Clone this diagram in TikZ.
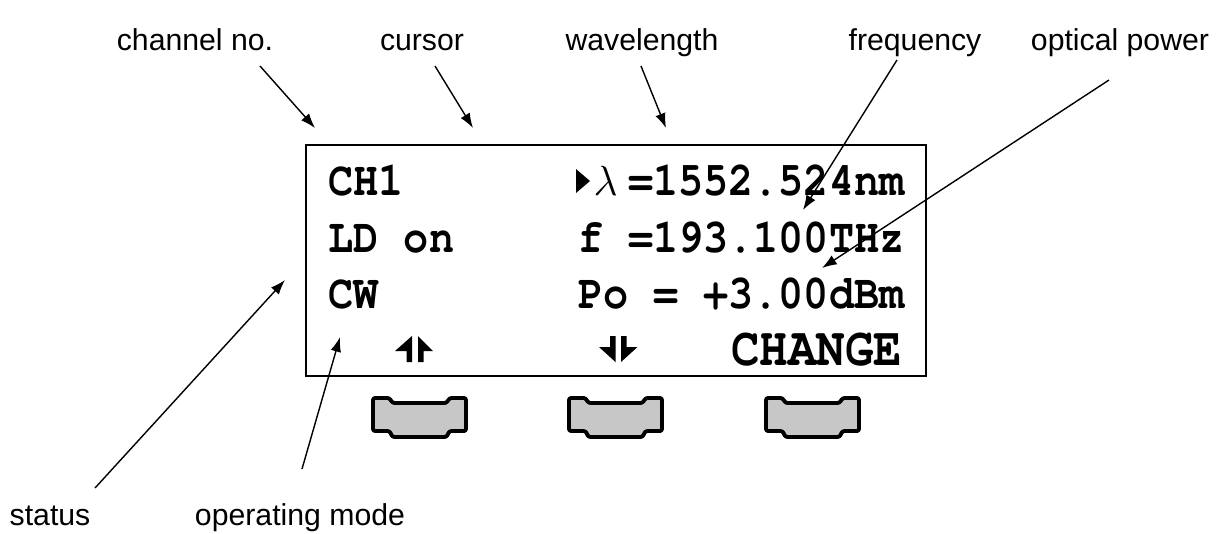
\documentclass[tikz,border=0pt]{standalone}
\usepackage{fontspec}
\setmainfont{Liberation Sans}
\newfontfamily\lcdfont{TeX Gyre Cursor}
\usetikzlibrary{arrows.meta}

\tikzset{
  callout/.style={font=\fontsize{8.6}{10}\selectfont, anchor=base, inner sep=0pt},
  lcdtext/.style={font=\lcdfont\bfseries\fontsize{11.9}{13}\selectfont, inner sep=0pt, yscale=1.15},
  pointer/.style={line width=0.4pt, -{Latex[length=4.2pt,width=3pt]}},
  keyglyph/.style={fill=black},
  softkey/.pic={
    \draw[line width=1.1pt, fill=black!22, line join=round, rounded corners=0.6pt]
      (-0.465,-0.135) -- (-0.465,0.195) -- (-0.30,0.195) -- (-0.27,0.145)
      -- (0.27,0.145) -- (0.30,0.195) -- (0.465,0.195) -- (0.465,-0.135)
      -- (0.30,-0.135) -- (0.27,-0.195) -- (-0.27,-0.195) -- (-0.30,-0.135) -- cycle;
  },
}

\begin{document}
\begin{tikzpicture}
  \useasboundingbox (0,0) rectangle (12.29,-5.33);

  % display frame
  \draw[line width=0.8pt] (3.06,-1.45) rectangle (9.26,-3.76);

  % display contents
  \node[lcdtext, anchor=base west] (chan) at (3.28,-1.95) {CH1};
  \node[lcdtext, anchor=base west] (ldon) at (3.28,-2.52) {LD on};
  \node[lcdtext, anchor=base west] (cw) at (3.28,-3.08) {CW};
  \fill (5.76,-1.69) -- (5.76,-1.93) -- (5.90,-1.81) -- cycle;
  \node[anchor=base west, inner sep=0pt, font=\fontsize{12}{14}\selectfont] (lam) at (5.93,-1.95) {$\lambda$};
  \node[lcdtext, anchor=base east] (wl) at (9.05,-1.95) {=1552.524nm};
  \node[lcdtext, anchor=base east] (fr) at (9.05,-2.52) {f =193.100THz};
  \node[lcdtext, anchor=base east] (po) at (9.05,-3.08) {Po = +3.00dBm};
  \node[lcdtext, anchor=base east, font=\lcdfont\bfseries\fontsize{13.5}{15}\selectfont] (change) at (9.03,-3.655) {CHANGE};

  % up / down key glyphs
  \fill[keyglyph] (4.12,-3.36) -- (4.12,-3.62) -- (4.065,-3.62) -- (4.065,-3.51) -- (3.95,-3.51) -- cycle;
  \fill[keyglyph] (4.18,-3.36) -- (4.33,-3.51) -- (4.235,-3.51) -- (4.235,-3.62) -- (4.18,-3.62) -- cycle;
  \fill[keyglyph] (6.10,-3.36) -- (6.155,-3.36) -- (6.155,-3.62) -- (5.99,-3.47) -- (6.10,-3.47) -- cycle;
  \fill[keyglyph] (6.21,-3.36) -- (6.265,-3.36) -- (6.265,-3.47) -- (6.375,-3.47) -- (6.21,-3.62) -- cycle;

  % soft keys
  \pic at (4.195,-4.175) {softkey};
  \pic at (6.155,-4.175) {softkey};
  \pic at (8.125,-4.175) {softkey};

  % callouts
  \node[callout] (chanlbl) at (1.95,-0.50) {channel no.};
  \node[callout] (curlbl) at (4.22,-0.50) {cursor};
  \node[callout] (wavelbl) at (6.42,-0.50) {wavelength};
  \node[callout] (freqlbl) at (9.15,-0.50) {frequency};
  \node[callout] (powlbl) at (11.20,-0.50) {optical power};
  \node[callout] (statlbl) at (0.50,-5.25) {status};
  \node[callout] (modelbl) at (3.00,-5.25) {operating mode};

  \coordinate (chan-from) at (2.60,-0.66);
  \coordinate (chan-to) at (3.15,-1.28);
  \coordinate (cur-from) at (4.35,-0.66);
  \coordinate (cur-to) at (4.73,-1.28);
  \coordinate (wave-from) at (6.41,-0.66);
  \coordinate (wave-to) at (6.66,-1.28);
  \coordinate (freq-from) at (8.97,-0.60);
  \coordinate (freq-to) at (8.03,-2.10);
  \coordinate (pow-from) at (11.09,-0.80);
  \coordinate (pow-to) at (8.22,-2.68);
  \coordinate (stat-from) at (0.95,-4.88);
  \coordinate (stat-to) at (2.85,-2.80);
  \coordinate (mode-from) at (3.02,-4.69);
  \coordinate (mode-to) at (3.40,-3.37);

  \draw[pointer] (chan-from) -- (chan-to);
  \draw[pointer] (cur-from) -- (cur-to);
  \draw[pointer] (wave-from) -- (wave-to);
  \draw[pointer] (freq-from) -- (freq-to);
  \draw[pointer] (pow-from) -- (pow-to);
  \draw[pointer] (stat-from) -- (stat-to);
  \draw[pointer] (mode-from) -- (mode-to);
\end{tikzpicture}
\end{document}
